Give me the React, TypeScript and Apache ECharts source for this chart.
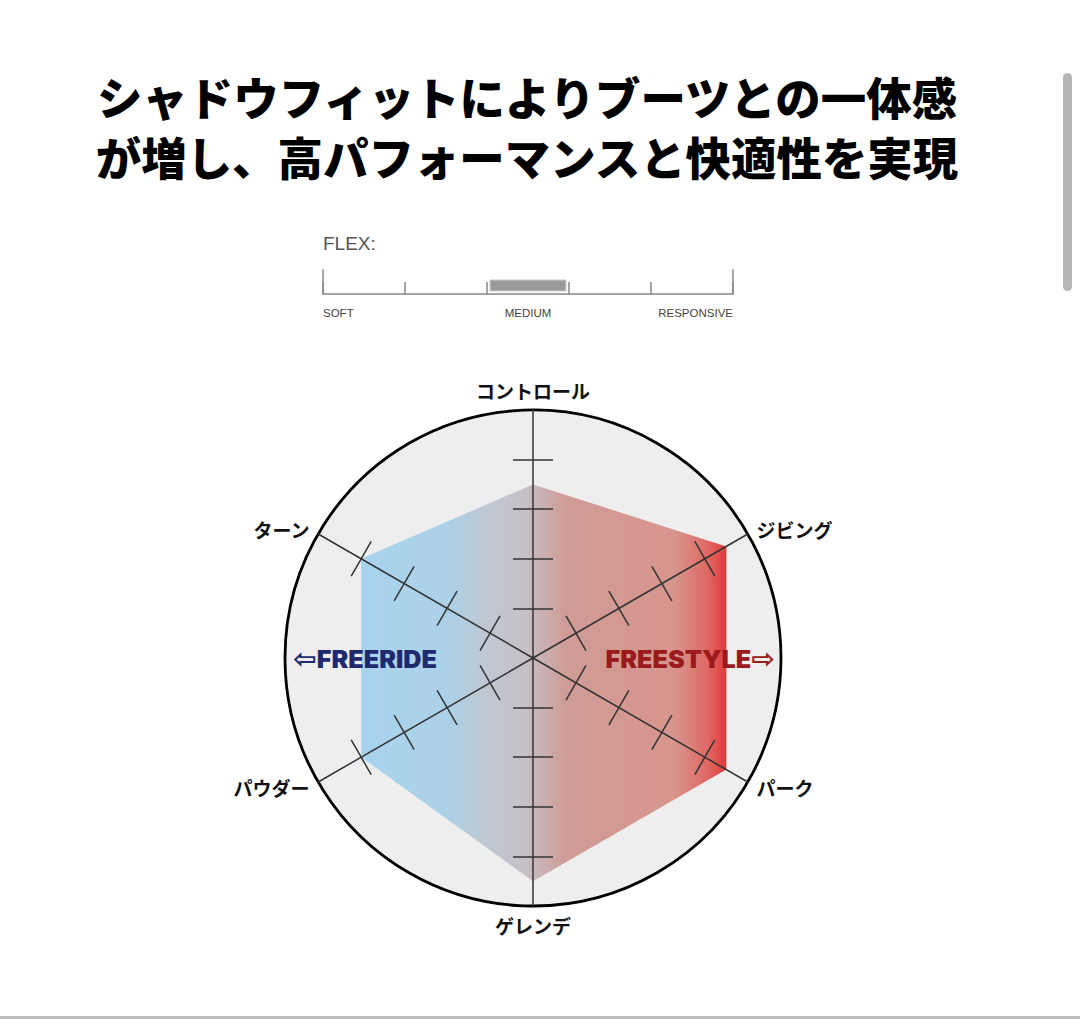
import React, { useEffect, useRef } from "react";
import * as echarts from "echarts";

const titleLines = ["シャドウフィットによりブーツとの一体感", "が増し、高パフォーマンスと快適性を実現"];
const indicatorNames = ["コントロール", "ターン", "パウダー", "ゲレンデ", "パーク", "ジビング"];
const indicatorMax = 5;
const bootValues = [3.5, 4.0, 4.0, 4.5, 4.5, 4.5];
const radarTickValues = [1, 2, 3, 4];
const flexLabels = ["SOFT", "MEDIUM", "RESPONSIVE"];
const flexLabelPositions = [0, 2.5, 5];
const flexSelected = [2, 3];
const styleNames = ["FREERIDE", "FREESTYLE"];
const styleArrows = ["⇦", "⇨"];

const JP = "'Noto Sans CJK JP', 'Noto Sans', sans-serif";

export default function App() {
  const ref = useRef<HTMLDivElement>(null);
  useEffect(() => {
    const chart = echarts.init(ref.current!, null, { renderer: "svg" });
    const radarBase = {
      center: [533, 658],
      radius: 248,
      startAngle: 90,
      shape: "circle",
      splitNumber: 1,
      indicator: indicatorNames.map((n) => ({ name: n, min: 0, max: indicatorMax })),
    };
    const tickLine = { color: "#333", width: 1.5 };
    const labelFont = "900 24px Inter, Roboto, 'DejaVu Sans', sans-serif";
    const arrowFont = "bold 27px 'DejaVu Sans', sans-serif";
    const option: any = {
      animation: false,
      backgroundColor: "#ffffff",
      radar: [
        {
          ...radarBase,
          z: 0,
          axisName: { show: false },
          axisLine: { show: false },
          axisTick: { show: false },
          axisLabel: { show: false },
          splitLine: { show: true, lineStyle: { color: "#000", width: 2.8 } },
          splitArea: { show: true, areaStyle: { color: ["#eeeeee"] } },
        },
        {
          ...radarBase,
          z: 3,
          nameGap: 10,
          axisName: { show: true, color: "#111", fontSize: 19, fontWeight: "bold", fontFamily: JP },
          axisLine: { show: true, lineStyle: tickLine },
          axisTick: { show: true, customValues: radarTickValues, length: 20, lineStyle: tickLine },
          axisLabel: { show: false },
          splitLine: { show: false },
          splitArea: { show: false },
        },
        {
          ...radarBase,
          z: 3,
          axisName: { show: false },
          axisLine: { show: false },
          axisTick: { show: true, customValues: radarTickValues, length: -20, lineStyle: tickLine },
          axisLabel: { show: false },
          splitLine: { show: false },
          splitArea: { show: false },
        },
      ],
      grid: { left: 323, width: 410, top: 270, height: 24 },
      xAxis: {
        type: "value",
        min: 0,
        max: 5,
        interval: 1,
        axisLine: { show: true, lineStyle: { color: "#888", width: 1.5 } },
        axisTick: { show: true, inside: true, length: 12, lineStyle: { color: "#888", width: 1.5 } },
        splitLine: { show: false },
        axisLabel: {
          show: true,
          customValues: flexLabelPositions,
          formatter: (v: number) => flexLabels[flexLabelPositions.indexOf(v)] ?? "",
          alignMinLabel: "left",
          alignMaxLabel: "right",
          margin: 13,
          fontSize: 11.5,
          color: "#444",
          fontFamily: "'Liberation Sans Narrow', 'Liberation Sans', Arial, sans-serif",
        },
      },
      yAxis: [
        {
          type: "value", min: 0, max: 1, position: "left",
          axisLine: { show: true, lineStyle: { color: "#888", width: 1.5 } },
          axisTick: { show: false }, axisLabel: { show: false }, splitLine: { show: false },
        },
        {
          type: "value", min: 0, max: 1, position: "right",
          axisLine: { show: true, lineStyle: { color: "#888", width: 1.5 } },
          axisTick: { show: false }, axisLabel: { show: false }, splitLine: { show: false },
        },
      ],
      series: [
        {
          type: "radar",
          radarIndex: 0,
          z: 2,
          symbol: "none",
          lineStyle: { width: 0, opacity: 0 },
          areaStyle: {
            opacity: 1,
            color: new echarts.graphic.LinearGradient(0, 0, 1, 0, [
              { offset: 0, color: "#a8d4ee" },
              { offset: 0.24, color: "#acd1e7" },
              { offset: 0.34, color: "#bfc8d3" },
              { offset: 0.45, color: "#c7c0c6" },
              { offset: 0.5, color: "#cab0b2" },
              { offset: 0.56, color: "#cf9c96" },
              { offset: 0.86, color: "#d8958d" },
              { offset: 0.95, color: "#df6862" },
              { offset: 1, color: "#e03a3a" },
            ]),
          },
          data: [{ value: bootValues, name: "ブーツ" }],
        },
        {
          type: "custom",
          coordinateSystem: "cartesian2d",
          xAxisIndex: 0,
          yAxisIndex: 0,
          encode: { x: [0, 1] },
          data: [flexSelected],
          renderItem: (params: any, api: any) => {
            const s = api.coord([api.value(0), 0]);
            const e = api.coord([api.value(1), 0]);
            const t = api.coord([0, 1]);
            return {
              type: "rect",
              shape: { x: s[0] + 3, y: t[1] + 10, width: e[0] - s[0] - 6, height: 11 },
              style: { fill: "#9a9a9a", stroke: "#cfcfcf", lineWidth: 1 },
            };
          },
        },
      ],
      graphic: [
        {
          type: "text", x: 527, y: 97, z: 10, scaleX: 1.01,
          style: { text: titleLines[0], fill: "#000", font: `900 45px ${JP}`, textAlign: "center", textVerticalAlign: "middle" },
        },
        {
          type: "text", x: 527, y: 157, z: 10, scaleX: 1.01,
          style: { text: titleLines[1], fill: "#000", font: `900 45px ${JP}`, textAlign: "center", textVerticalAlign: "middle" },
        },
        {
          type: "text", x: 323, y: 243, z: 10,
          style: { text: "FLEX:", fill: "#555", font: "19px 'Liberation Sans', Arial, sans-serif", textAlign: "left", textVerticalAlign: "middle" },
        },
        {
          type: "text", x: 293, y: 659, z: 10, scaleX: 1.05,
          style: {
            text: `{a|${styleArrows[0]}}{b|${styleNames[0]}}`,
            textAlign: "left", textVerticalAlign: "middle",
            rich: {
              a: { font: arrowFont, fill: "#1f2a6e", verticalAlign: "middle" },
              b: { font: labelFont, fill: "#1f2a6e", verticalAlign: "middle" },
            },
          },
        },
        {
          type: "text", x: 775, y: 659, z: 10, scaleX: 1.05,
          style: {
            text: `{b|${styleNames[1]}}{a|${styleArrows[1]}}`,
            textAlign: "right", textVerticalAlign: "middle",
            rich: {
              a: { font: arrowFont, fill: "#9b1a1c", verticalAlign: "middle" },
              b: { font: labelFont, fill: "#9b1a1c", verticalAlign: "middle" },
            },
          },
        },
        {
          type: "rect", z: 10,
          shape: { x: 1063, y: 73, width: 9, height: 218, r: 4.5 },
          style: { fill: "#b6b6b6" },
        },
        {
          type: "rect", z: 10,
          shape: { x: 0, y: 1016, width: 1080, height: 3 },
          style: { fill: "#bdbdbd" },
        },
      ],
    };
    chart.setOption(option);
    return () => chart.dispose();
  }, []);
  return (
    <div
      ref={ref}
      style={{ position: "absolute", left: 0, top: 0, width: 1080, height: 1019 }}
    />
  );
}
